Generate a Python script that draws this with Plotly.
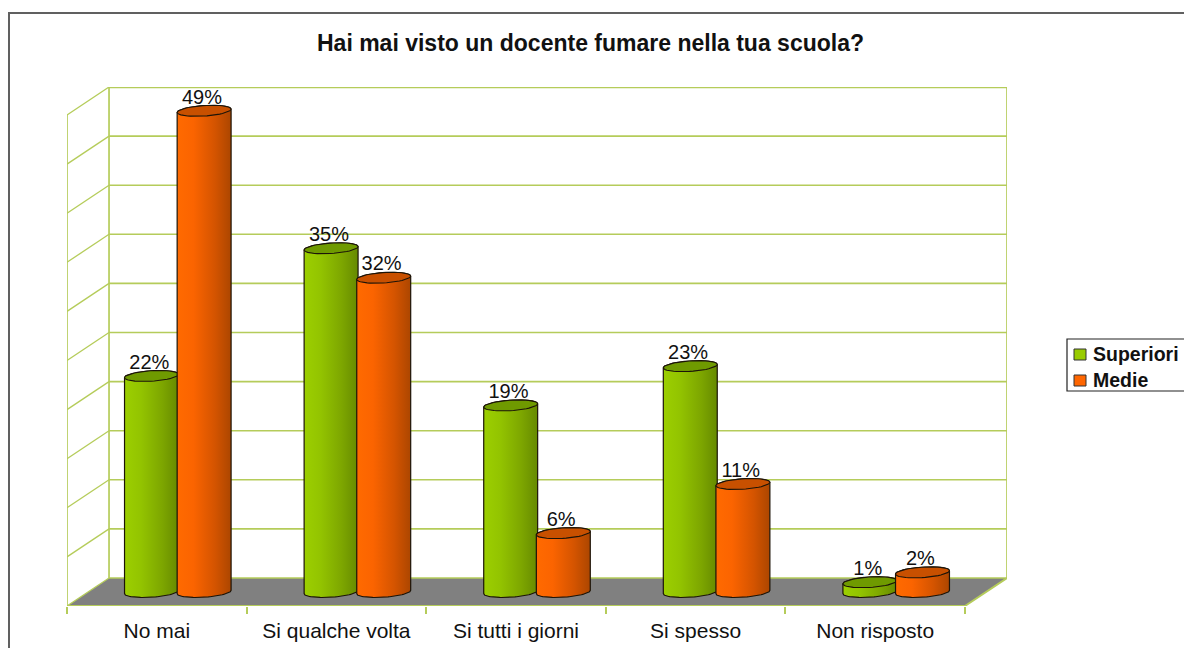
import numpy as np
import plotly.graph_objects as go

# Survey results, in percent
categories = ["No mai", "Si qualche volta", "Si tutti i giorni", "Si spesso", "Non risposto"]
superiori = [22, 35, 19, 23, 1]
medie = [49, 32, 6, 11, 2]
grid_values = [0, 5, 10, 15, 20, 25, 30, 35, 40, 45, 50]

# Oblique projection: shift of the back wall relative to the front edge
DEPTH_X = 0.234   # in category units
DEPTH_Y = 2.85    # in percent units
X_MAX = len(categories) + DEPTH_X
Y_MAX = 50

# Cylinder geometry
BAR_OFFSET = 0.1465
RADIUS_X = 0.143
RADIUS_DEPTH = 0.196
BAR_DEPTH = 0.5

WALL = "#b5cc5a"
FLOOR = "#808080"
OUTLINE = "#1c1408"
FONT = "Liberation Sans, Arial, sans-serif"
SERIES = {
    "Superiori": dict(values=superiori, side=-1, top="#6f9a00", swatch="#99cc00",
                      scale=[[0, "#9ccf00"], [0.3, "#93c400"], [0.7, "#7da600"], [1, "#668a00"]]),
    "Medie": dict(values=medie, side=1, top="#c85000", swatch="#ff6600",
                  scale=[[0, "#ff6a00"], [0.3, "#fb6400"], [0.7, "#d45400"], [1, "#ac4600"]]),
}


def project(x, value, depth):
    """Map a point on the floor/height/depth frame to the chart's axes."""
    return x + np.asarray(depth) * DEPTH_X, value + (np.asarray(depth) - 1) * DEPTH_Y


def edge(points, width=1.5, color=WALL):
    xs, ys = [], []
    for seg in points:
        for (x, v, d) in seg:
            px, py = project(x, v, d)
            xs.append(float(px))
            ys.append(float(py))
        xs.append(None)
        ys.append(None)
    return go.Scatter(x=xs, y=ys, mode="lines", line=dict(color=color, width=width),
                      hoverinfo="skip", showlegend=False)


def arc(center, value, t0, t1):
    t = np.linspace(t0, t1, 50)
    return project(center + RADIUS_X * np.cos(t), value,
                   BAR_DEPTH + RADIUS_DEPTH * np.sin(t))


n = len(categories)
fig = go.Figure()

# Grey floor
fx, fy = zip(*[project(x, 0, d) for x, d in [(0, 0), (n, 0), (n, 1), (0, 1), (0, 0)]])
fig.add_trace(go.Scatter(x=[float(v) for v in fx], y=[float(v) for v in fy], mode="lines",
                         fill="toself", fillcolor=FLOOR, line=dict(width=0),
                         hoverinfo="skip", showlegend=False))

# Back wall gridlines and side wall lines
fig.add_trace(edge([[(0, v, 1), (n, v, 1)] for v in grid_values], width=1.6))
fig.add_trace(edge([[(0, v, 1), (0, v, 0)] for v in grid_values], width=1.3))
fig.add_trace(edge([[(0, 0, 1), (0, Y_MAX, 1)], [(n, 0, 1), (n, Y_MAX, 1)],
                    [(0, 0, 0), (0, Y_MAX, 0)]], width=1.7))
fig.add_trace(edge([[(0, Y_MAX, 1), (n, Y_MAX, 1)]], width=2.4))
fig.add_trace(edge([[(0, 0, 0), (n, 0, 0), (n, 0, 1)]], width=1.9))

# Value labels sit behind the cylinders
for name, s in SERIES.items():
    lx, ly, lt = [], [], []
    for i, v in enumerate(s["values"]):
        px, py = project(i + 0.5 + s["side"] * BAR_OFFSET, v, BAR_DEPTH)
        lx.append(float(px) - 0.012)
        ly.append(float(py) + 1.25)
        lt.append(f"{v}%")
    fig.add_trace(go.Scatter(x=lx, y=ly, text=lt, mode="text", textposition="middle center",
                             textfont=dict(family=FONT, size=20, color="#111111"),
                             hoverinfo="skip", showlegend=False))

# Cylinders: silhouette with a left-to-right shading, then the darker top cap
t0 = np.arctan2(RADIUS_DEPTH * DEPTH_X, RADIUS_X)
for i in range(n):
    for name, s in SERIES.items():
        c = i + 0.5 + s["side"] * BAR_OFFSET
        v = s["values"][i]
        xb, yb = arc(c, v, t0, t0 + np.pi)
        xf, yf = arc(c, 0, t0 + np.pi, t0 + 2 * np.pi)
        fig.add_trace(go.Scatter(
            x=np.r_[xb, xf, xb[0]], y=np.r_[yb, yf, yb[0]], mode="lines", fill="toself",
            fillgradient=dict(type="horizontal", colorscale=s["scale"]),
            line=dict(color=OUTLINE, width=1.2), hoverinfo="skip", showlegend=False))
        xt, yt = arc(c, v, 0, 2 * np.pi)
        fig.add_trace(go.Scatter(x=xt, y=yt, mode="lines", fill="toself", fillcolor=s["top"],
                                 line=dict(color=OUTLINE, width=1.1),
                                 hoverinfo="skip", showlegend=False))

L, R, T, B = 67, 177, 87, 42
W, H = 1184, 648
pw, ph = W - L - R, H - T - B


def paper_x(px):
    return (px - L) / pw


def paper_y(py):
    return (H - B - py) / ph


# Outer frame of the chart, open past the right and bottom edges of the page
fig.add_shape(type="rect", xref="paper", yref="paper", layer="below",
              x0=paper_x(9), x1=paper_x(W + 8), y0=paper_y(H + 8), y1=paper_y(13),
              line=dict(color="#606060", width=2), fillcolor="white")

# Legend box with its swatches and entries
fig.add_shape(type="rect", xref="paper", yref="paper", layer="above",
              x0=paper_x(1067), x1=paper_x(W + 4), y0=paper_y(391), y1=paper_y(339),
              line=dict(color="#222222", width=1.2), fillcolor="white")
for row, (name, s) in enumerate(SERIES.items()):
    top = 349 + 26 * row
    fig.add_shape(type="rect", xref="paper", yref="paper", layer="above",
                  x0=paper_x(1074), x1=paper_x(1086), y0=paper_y(top + 11), y1=paper_y(top),
                  line=dict(color="#333333", width=1), fillcolor=s["swatch"])
    fig.add_annotation(xref="paper", yref="paper", x=paper_x(1091), y=paper_y(top + 5.5),
                       xanchor="left", yanchor="middle", showarrow=False, text=f"<b>{name}</b>",
                       font=dict(family=FONT, size=19.5, color="#111111"))

fig.update_layout(
    width=W, height=H, autosize=False, showlegend=False,
    margin=dict(l=L, r=R, t=T, b=B, pad=0, autoexpand=False),
    paper_bgcolor="white", plot_bgcolor="rgba(0,0,0,0)",
    title=dict(text="<b>Hai mai visto un docente fumare nella tua scuola?</b>",
               x=590.5 / W, xanchor="center", y=1 - 43 / H, yanchor="middle",
               font=dict(family=FONT, size=23, color="#111111")),
    xaxis=dict(range=[0, X_MAX], showgrid=False, zeroline=False, showline=False,
               tickvals=[i + 0.5 for i in range(n)], ticktext=categories, ticks="",
               ticklabelstandoff=10, tickfont=dict(family=FONT, size=21, color="#111111"),
               minor=dict(tickvals=list(range(n + 1)), ticks="outside", ticklen=7,
                          tickcolor=WALL, tickwidth=1.5, showgrid=False),
               fixedrange=True),
    yaxis=dict(range=[-DEPTH_Y, Y_MAX], visible=False, fixedrange=True),
)

fig.write_html("out.html")
